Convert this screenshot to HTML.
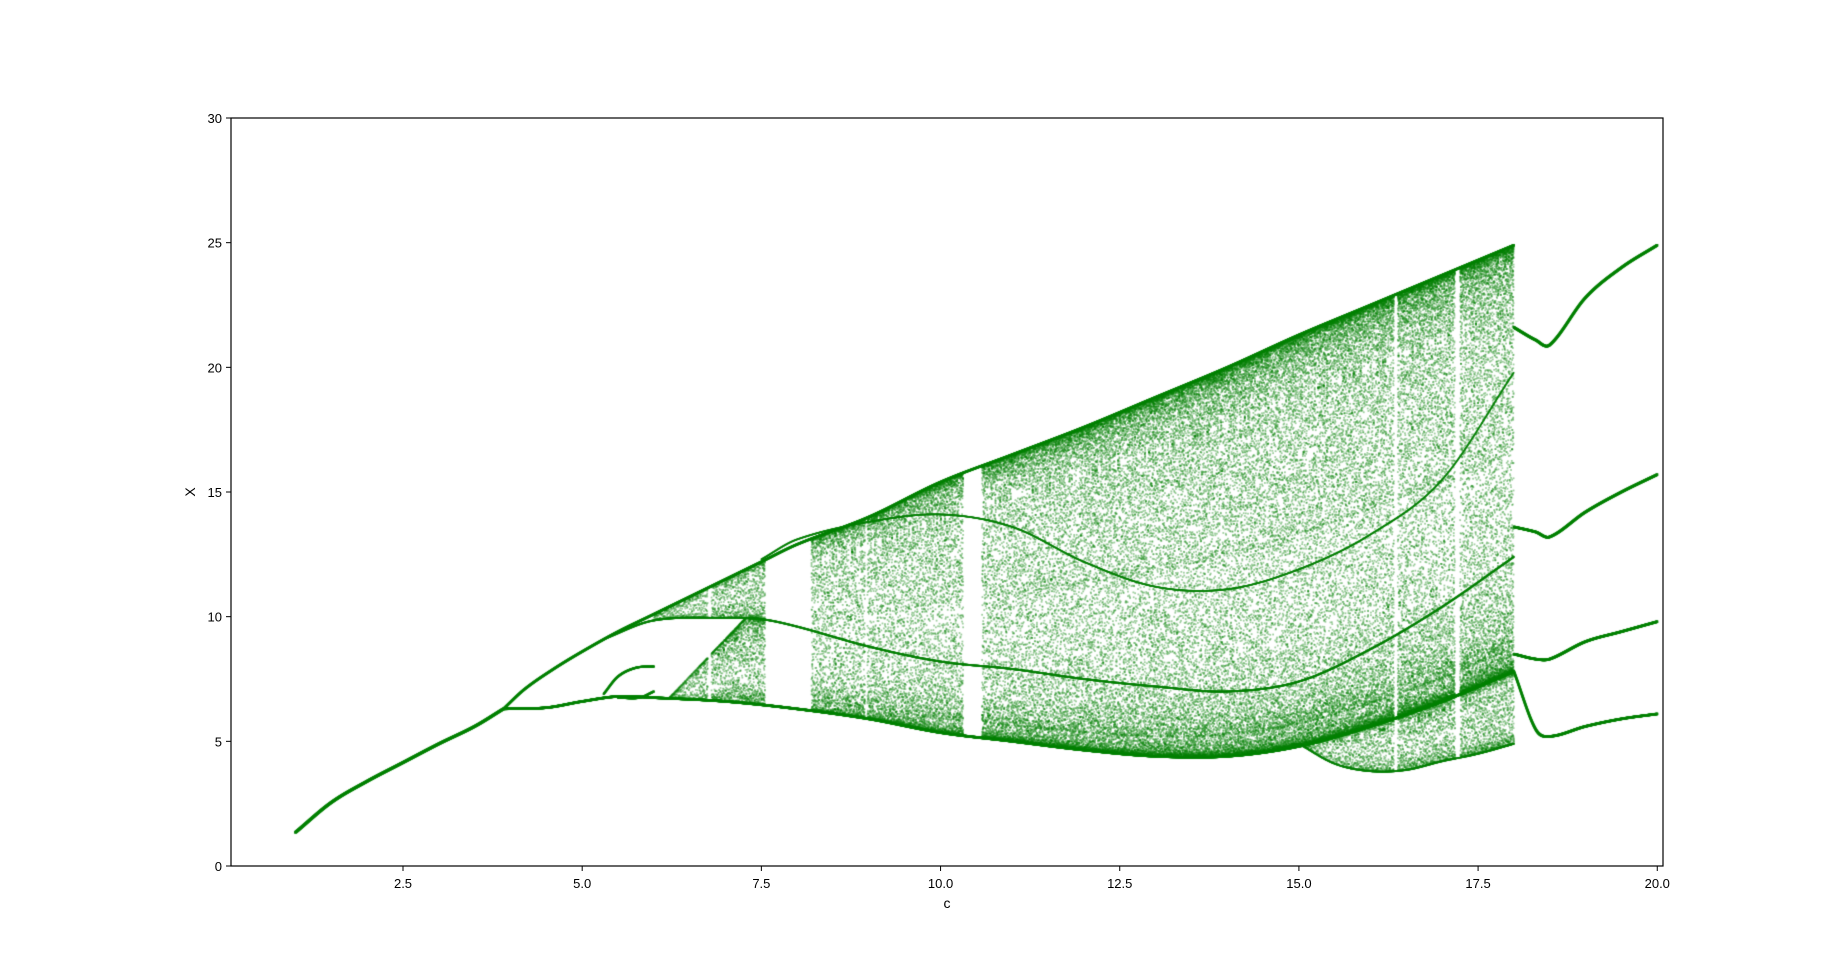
<!DOCTYPE html>
<html><head><meta charset="utf-8">
<style>
html,body{margin:0;padding:0;background:#fff;}
#wrap{position:relative;width:1848px;height:974px;font-family:"Liberation Sans",sans-serif;}
canvas,svg{position:absolute;left:0;top:0;}
</style></head>
<body>
<div id="wrap">
<canvas id="cv" width="1848" height="974"></canvas>
<svg id="ax" width="1848" height="974"></svg>
</div>
<script>
// ---- data ----
const xTicks = [2.5, 5.0, 7.5, 10.0, 12.5, 15.0, 17.5, 20.0];
const xTickLabels = ["2.5","5.0","7.5","10.0","12.5","15.0","17.5","20.0"];
const yTicks = [0, 5, 10, 15, 20, 25, 30];
const yTickLabels = ["0","5","10","15","20","25","30"];
const fixedC = [1.0, 1.5, 2.0, 2.5, 3.0, 3.5, 3.9];
const fixedX = [1.35, 2.55, 3.4, 4.15, 4.9, 5.6, 6.3];
const upperC = [3.9, 4.2, 4.6, 5.0, 5.5, 6.0, 6.5, 7.0, 7.5, 8.0, 9.0, 10.0, 11.0, 12.0, 13.0, 14.0, 15.0, 16.0, 17.0, 18.0];
const upperX = [6.3, 7.1, 7.9, 8.6, 9.4, 10.1, 10.8, 11.5, 12.2, 12.9, 14.0, 15.4, 16.5, 17.6, 18.8, 20.0, 21.3, 22.5, 23.7, 24.9];
const lowerC = [3.9, 4.5, 5.0, 5.5, 6.0, 7.0, 8.0, 9.0, 10.0, 11.0, 12.0, 13.0, 14.0, 15.0, 16.0, 17.0, 18.0];
const lowerX = [6.3, 6.35, 6.6, 6.8, 6.75, 6.6, 6.3, 5.9, 5.35, 5.0, 4.65, 4.4, 4.4, 4.8, 5.6, 6.6, 7.8];
const midAC = [5.3, 6.0, 7.0, 7.5, 8.0, 9.0, 10.0, 11.0, 12.0, 13.0, 14.0, 15.0, 16.0, 17.0, 18.0];
const midAX = [9.1, 9.85, 9.95, 9.9, 9.6, 8.8, 8.2, 7.9, 7.5, 7.2, 7.0, 7.4, 8.7, 10.4, 12.4];
const midBC = [7.5, 8.0, 9.0, 10.0, 11.0, 12.0, 13.0, 14.0, 15.0, 16.0, 17.0, 18.0];
const midBX = [12.3, 13.1, 13.8, 14.1, 13.6, 12.2, 11.2, 11.1, 11.9, 13.3, 15.5, 19.8];
const lowBandC = [15.0, 15.5, 16.0, 16.5, 17.0, 17.5, 18.0];
const lowBandX = [4.9, 4.1, 3.8, 3.85, 4.2, 4.5, 4.9];
const p4aC = [5.3, 5.5, 5.75, 6.0];
const p4aX = [6.9, 7.6, 7.95, 8.0];
const p4bC = [5.5, 5.8, 6.0];
const p4bX = [6.75, 6.75, 7.0];
const tail1C = [18.0, 18.3, 18.5, 19.0, 19.5, 20.0];
const tail1X = [21.6, 21.1, 20.9, 22.8, 24.0, 24.9];
const tail2C = [18.0, 18.3, 18.5, 19.0, 19.5, 20.0];
const tail2X = [13.6, 13.4, 13.2, 14.2, 15.0, 15.7];
const tail3C = [18.0, 18.3, 18.5, 19.0, 19.5, 20.0];
const tail3X = [8.5, 8.3, 8.3, 9.0, 9.4, 9.8];
const tail4C = [18.0, 18.3, 18.5, 19.0, 19.5, 20.0];
const tail4X = [7.8, 5.5, 5.2, 5.6, 5.9, 6.1];
const bandRanges = [[6.0, 7.55], [6.2, 7.55], [8.2, 18.0], [14.9, 18.0]];
const gapRanges = [[6.75, 6.8], [7.55, 8.2], [8.95, 8.98], [10.32, 10.58], [16.33, 16.38], [17.18, 17.25]];

// ---- scales ----
const L = 231, R = 1663, T = 118, B = 866;
const XMIN = 0.1, XMAX = 20.08, YMIN = 0, YMAX = 30;
const sx = c => L + (c - XMIN) / (XMAX - XMIN) * (R - L);
const sy = v => B - (v - YMIN) / (YMAX - YMIN) * (B - T);
function interp(cs, xs, c) {
  const n = cs.length;
  if (c <= cs[0]) return xs[0];
  if (c >= cs[n-1]) return xs[n-1];
  let i = 1; while (c > cs[i]) i++;
  const t = (c - cs[i-1]) / (cs[i] - cs[i-1]);
  const p0 = xs[Math.max(0, i-2)], p1 = xs[i-1], p2 = xs[i], p3 = xs[Math.min(n-1, i+1)];
  const h = cs[i] - cs[i-1];
  const m1 = (i-2 >= 0) ? (p2 - p0) / (cs[i] - cs[i-2]) * h : (p2 - p1);
  const m2 = (i+1 <= n-1) ? (p3 - p1) / (cs[i+1] - cs[i-1]) * h : (p2 - p1);
  const t2 = t*t, t3 = t2*t;
  return (2*t3-3*t2+1)*p1 + (t3-2*t2+t)*m1 + (-2*t3+3*t2)*p2 + (t3-t2)*m2;
}
const inGap = c => gapRanges.some(g => c > g[0] && c < g[1]);

const cv = document.getElementById('cv');
const ctx = cv.getContext('2d');
ctx.save();
ctx.beginPath(); ctx.rect(L, T, R - L, B - T); ctx.clip();
ctx.fillStyle = 'rgba(0,128,0,0.38)';
let u = 0.3141;
function nextU() { u = 3.99 * u * (1 - u); return u; }
function band(idx, c) {
  if (idx === 0) return [interp(midAC, midAX, c), interp(upperC, upperX, c)];
  if (idx === 1) return [interp(lowerC, lowerX, c), Math.min(interp(midAC, midAX, c), 6.7 + (c - 6.2) * 3.0)];
  if (idx === 2) return [interp(lowerC, lowerX, c), interp(upperC, upperX, c)];
  return [interp(lowBandC, lowBandX, c), interp(lowerC, lowerX, c)];
}
bandRanges.forEach((br, bi) => {
  for (let c = br[0]; c <= br[1]; c += 0.005) {
    if (inGap(c)) continue;
    const [lo, hi] = band(bi, c);
    const n = Math.max(4, Math.round((hi - lo) * (bi === 2 ? 3.4 : 5)));
    for (let k = 0; k < n; k++) {
      const v = lo + (hi - lo) * (0.5 - 0.5 * Math.cos(Math.PI * nextU()));
      ctx.fillRect(sx(c) - 0.9, sy(v) - 0.9, 1.8, 1.8);
    }
  }
});
ctx.fillStyle = 'rgba(0,128,0,1)';
function branch(cs, xs, w) {
  for (let c = cs[0]; c <= cs[cs.length-1]; c += 0.003) {
    ctx.fillRect(sx(c) - w/2, sy(interp(cs, xs, c)) - w/2, w, w);
  }
}
branch(fixedC, fixedX, 2.6);
branch(upperC, upperX, 2.2);
branch(lowerC, lowerX, 2.4);
ctx.fillStyle = 'rgba(0,128,0,0.7)';
branch(midAC, midAX, 1.8);
branch(midBC, midBX, 1.5);
branch(lowBandC, lowBandX, 1.5);
ctx.fillStyle = 'rgba(0,128,0,1)';
branch(p4aC, p4aX, 2);
branch(p4bC, p4bX, 2);
branch(tail1C, tail1X, 2.4);
branch(tail2C, tail2X, 2.4);
branch(tail3C, tail3X, 2.4);
branch(tail4C, tail4X, 2.4);
ctx.restore();

// ---- axes ----
const NS = 'http://www.w3.org/2000/svg';
const svg = document.getElementById('ax');
function mk(tag, attrs, text) {
  const e = document.createElementNS(NS, tag);
  for (const k in attrs) e.setAttribute(k, attrs[k]);
  if (text !== undefined) e.textContent = text;
  svg.appendChild(e);
  return e;
}
const frame = mk('rect', {x: L, y: T, width: R - L, height: B - T, fill: 'none', stroke: '#000', 'stroke-width': 1.2});


xTicks.forEach((t, i) => {
  const x = sx(t);
  const tk = mk('line', {x1: x, x2: x, y1: B, y2: B + 5, stroke: '#000', 'stroke-width': 1});
  
  
  const lb = mk('text', {x: x, y: B + 22, 'text-anchor': 'middle', 'font-size': 13, fill: '#000'}, xTickLabels[i]);
  
  
});
yTicks.forEach((t, i) => {
  const y = sy(t);
  const tk = mk('line', {x1: L - 5, x2: L, y1: y, y2: y, stroke: '#000', 'stroke-width': 1});
  
  
  const lb = mk('text', {x: L - 9, y: y + 5, 'text-anchor': 'end', 'font-size': 13, fill: '#000'}, yTickLabels[i]);
  
  
});
const xt = mk('text', {x: (L + R) / 2, y: B + 42, 'text-anchor': 'middle', 'font-size': 14, fill: '#000'}, 'c');


const yt = mk('text', {x: 0, y: 0, 'text-anchor': 'middle', 'font-size': 14, fill: '#000', transform: `translate(${L - 36},${(T + B) / 2}) rotate(-90)`}, 'X');


</script>
</body></html>
